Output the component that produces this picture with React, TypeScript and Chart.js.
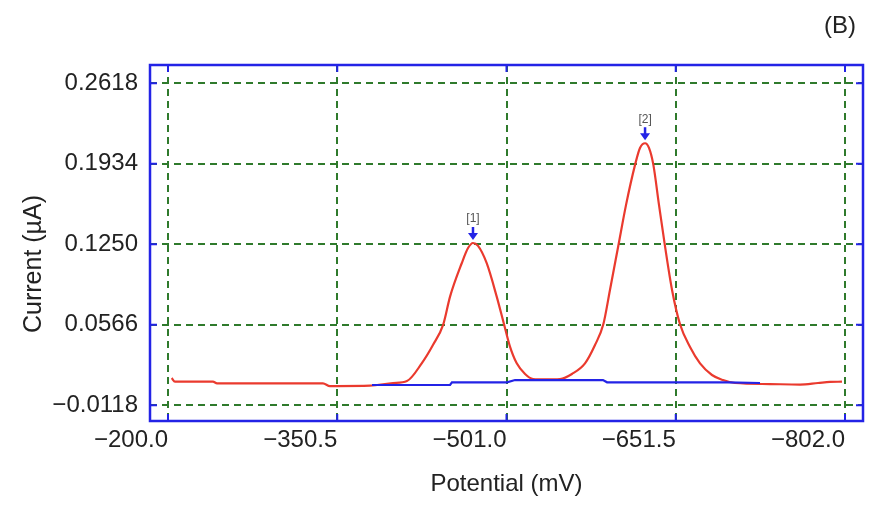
import React, { useEffect, useRef } from "react";
import { Chart, registerables } from "chart.js";

Chart.register(...registerables);

// ---- Data ----
const SAMPLE_POTENTIAL = [
  -203.3, -206.2, -240.0, -243.6, -337.8, -344.0, -350.3, -379.6, -400.1, -412.5,
  -425.6, -435.6, -444.8, -450.8, -461.2, -466.8, -471.2, -475.7, -483.4, -492.3,
  -498.8, -504.1, -510.1, -517.5, -524.6, -535.2, -548.6, -559.2, -570.8, -579.7,
  -587.1, -593.0, -600.4, -607.3, -615.3, -619.7, -624.2, -627.7, -631.6, -636.6,
  -641.9, -648.2, -655.3, -664.2, -673.1, -683.7, -693.5, -704.2, -735.3, -762.0,
  -778.0, -788.7, -799.3,
];
const SAMPLE_CURRENT = [
  0.0113, 0.0082, 0.0082, 0.0068, 0.0068, 0.0045, 0.0045, 0.0048, 0.0071, 0.0088,
  0.0238, 0.0394, 0.0570, 0.0805, 0.1089, 0.1218, 0.1261, 0.1236, 0.1089, 0.0805,
  0.0570, 0.0380, 0.0238, 0.0148, 0.0105, 0.0101, 0.0105, 0.0148, 0.0238, 0.0394,
  0.0570, 0.0862, 0.1236, 0.1585, 0.1925, 0.2069, 0.2109, 0.2069, 0.1925, 0.1585,
  0.1236, 0.0862, 0.0570, 0.0377, 0.0238, 0.0139, 0.0096, 0.0071, 0.0062, 0.0058,
  0.0071, 0.0080, 0.0082,
];
const BLANK_POTENTIAL = [-381.4, -450.8, -452.5, -501.4, -508.6, -586.8, -590.4, -697.1, -726.4];
const BLANK_CURRENT = [0.0054, 0.0054, 0.0077, 0.0077, 0.0096, 0.0096, 0.0077, 0.0077, 0.0071];

const X_TICKS = [-200.0, -350.5, -501.0, -651.5, -802.0];
const Y_TICKS = [-0.0118, 0.0566, 0.125, 0.1934, 0.2618];

const PEAK_LABELS = ["[1]", "[2]"];
const PEAK_POTENTIAL = [-471.2, -624.2];
const PEAK_CURRENT = [0.1261, 0.2109];

const PANEL_LABEL = "(B)";
const X_TITLE = "Potential (mV)";
const Y_TITLE = "Current (\u00b5A)";

const FONT = "'Liberation Sans', Arial, Helvetica, sans-serif";
const FS = 24;
const BLUE = "#2323e6";
const RED = "#ea3a2e";
const GRID = "#2f7a2c";

const fmt = (v: number, d: number) => v.toFixed(d).replace("-", "\u2212");

const framePlugin = {
  id: "frame",
  afterDatasetsDraw(chart: any) {
    const { ctx, scales } = chart;
    ctx.save();
    for (let i = 0; i < PEAK_LABELS.length; i++) {
      const px = scales.x.getPixelForValue(PEAK_POTENTIAL[i]);
      const py = scales.y.getPixelForValue(PEAK_CURRENT[i]);
      ctx.strokeStyle = BLUE;
      ctx.fillStyle = BLUE;
      ctx.lineWidth = 2.5;
      ctx.beginPath();
      ctx.moveTo(px, py - 16);
      ctx.lineTo(px, py - 8);
      ctx.stroke();
      ctx.beginPath();
      ctx.moveTo(px - 5, py - 10);
      ctx.lineTo(px + 5, py - 10);
      ctx.lineTo(px, py - 3);
      ctx.closePath();
      ctx.fill();
      ctx.fillStyle = "#555";
      ctx.font = `12px ${FONT}`;
      ctx.textAlign = "center";
      ctx.textBaseline = "middle";
      ctx.fillText(PEAK_LABELS[i], px, py - 24);
    }
    ctx.restore();
  },
  afterDraw(chart: any) {
    const { ctx, chartArea, scales } = chart;
    const { left, right, top, bottom } = chartArea;
    ctx.save();
    ctx.strokeStyle = BLUE;
    ctx.lineWidth = 2.5;
    ctx.strokeRect(left, top, right - left, bottom - top);
    ctx.lineWidth = 2;
    const tl = 7;
    ctx.beginPath();
    for (const v of X_TICKS) {
      const x = scales.x.getPixelForValue(v);
      ctx.moveTo(x, bottom);
      ctx.lineTo(x, bottom - tl);
      ctx.moveTo(x, top);
      ctx.lineTo(x, top + tl);
    }
    for (const v of Y_TICKS) {
      const y = scales.y.getPixelForValue(v);
      ctx.moveTo(left, y);
      ctx.lineTo(left + tl, y);
      ctx.moveTo(right, y);
      ctx.lineTo(right - tl, y);
    }
    ctx.stroke();
    ctx.fillStyle = "#222";
    ctx.font = `${FS}px ${FONT}`;
    ctx.textAlign = "right";
    ctx.textBaseline = "middle";
    ctx.fillText(PANEL_LABEL, 856, 26);
    // y-axis title (placed slightly below the plot centre, as in the original)
    ctx.translate(34, 264);
    ctx.rotate(-Math.PI / 2);
    ctx.textAlign = "center";
    ctx.font = `25px ${FONT}`;
    ctx.fillText(Y_TITLE, 0, 0);
    ctx.restore();
  },
};

export default function App() {
  const ref = useRef<HTMLCanvasElement | null>(null);
  useEffect(() => {
    if (!ref.current) return;
    const chart = new Chart(ref.current, {
      type: "line",
      data: {
        datasets: [
          {
            label: "blank",
            data: BLANK_POTENTIAL.map((x, i) => ({ x, y: BLANK_CURRENT[i] })),
            borderColor: BLUE,
            borderWidth: 2.2,
            pointRadius: 0,
            tension: 0,
            fill: false,
          },
          {
            label: "sample",
            data: SAMPLE_POTENTIAL.map((x, i) => ({ x, y: SAMPLE_CURRENT[i] })),
            borderColor: RED,
            borderWidth: 2.2,
            pointRadius: 0,
            cubicInterpolationMode: "monotone",
            fill: false,
          },
        ],
      },
      options: {
        animation: false,
        responsive: false,
        layout: { padding: { top: 65, right: 8, left: 0, bottom: 0 } },
        plugins: { legend: { display: false }, tooltip: { enabled: false } },
        scales: {
          x: {
            type: "linear",
            reverse: true,
            min: -818,
            max: -184,
            afterBuildTicks: (s: any) => {
              s.ticks = X_TICKS.map((v) => ({ value: v }));
            },
            afterFit: (s: any) => {
              s.height = 84;
              s.paddingLeft = 0;
              s.paddingRight = 0;
            },
            ticks: {
              autoSkip: false,
              maxRotation: 0,
              align: "end",
              padding: 5,
              color: "#222",
              font: { family: FONT, size: FS },
              callback: (v: any) => fmt(Number(v), 1),
            },
            grid: { color: GRID, lineWidth: 2, drawTicks: false },
            border: { display: false, dash: [7, 5] },
            title: {
              display: true,
              text: X_TITLE,
              color: "#222",
              font: { family: FONT, size: FS },
              padding: { top: 0, bottom: 6 },
            },
          },
          y: {
            type: "linear",
            min: -0.0252,
            max: 0.2774,
            afterBuildTicks: (s: any) => {
              s.ticks = Y_TICKS.map((v) => ({ value: v }));
            },
            afterFit: (s: any) => {
              s.width = 150;
              s.paddingTop = 0;
              s.paddingBottom = 0;
            },
            ticks: {
              autoSkip: false,
              padding: 12,
              color: "#222",
              font: { family: FONT, size: FS },
              callback: (v: any) => fmt(Number(v), 4),
            },
            grid: { color: GRID, lineWidth: 2, drawTicks: false },
            border: { display: false, dash: [7, 5] },
          },
        },
      },
      plugins: [framePlugin],
    });
    return () => chart.destroy();
  }, []);
  return (
    <div style={{ position: "absolute", left: 0, top: 0, width: 871, height: 505, background: "#fff" }}>
      <canvas ref={ref} width={871} height={505} style={{ display: "block" }} />
    </div>
  );
}
